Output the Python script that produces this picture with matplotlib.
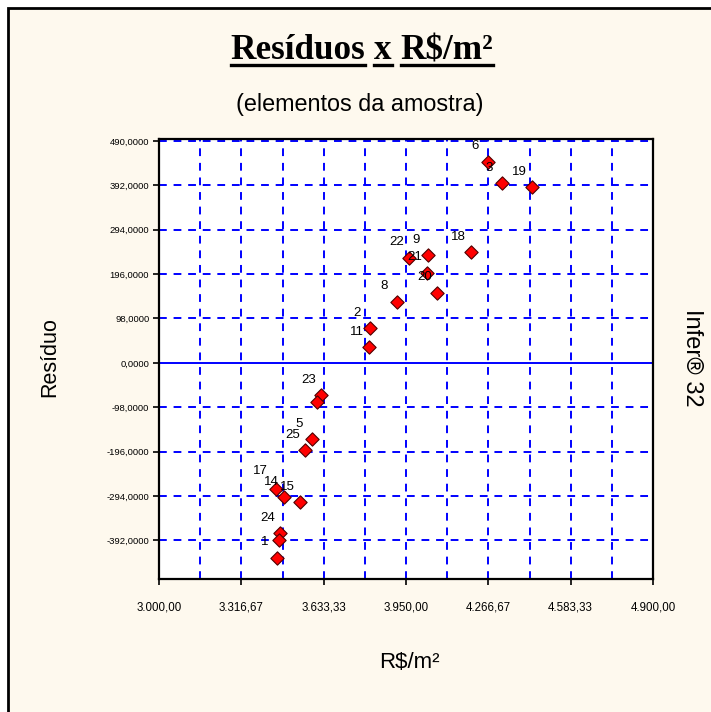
import matplotlib.pyplot as plt
from matplotlib.patches import Rectangle
from matplotlib.lines import Line2D
import numpy as np

# sample elements (None = label not readable in the picture)
labels = ['2', '11', '8', '22', '9', '21', '20', '18', '6', '3', '19',
          '23', None, '5', '25', '17', '14', '15', '24', None, '1']
precos = [3811, 3808, 3915, 3962, 4035, 4031, 4069, 4200, 4265, 4319, 4435,
          3623, 3608, 3588, 3562, 3450, 3481, 3542, 3465, 3462, 3454]
residuos = [77, 35, 135, 232, 238, 199, 155, 245, 444, 397, 388,
            -71, -86, -168, -192, -278, -296, -307, -375, -391, -430]

x_ticks = [3000, 3316.67, 3633.33, 3950, 4266.67, 4583.33, 4900]
x_ticklabels = ['3.000,00', '3.316,67', '3.633,33', '3.950,00', '4.266,67', '4.583,33', '4.900,00']
y_ticks = [490, 392, 294, 196, 98, 0, -98, -196, -294, -392]
y_ticklabels = ['490,0000', '392,0000', '294,0000', '196,0000', '98,0000', '0,0000',
                '-98,0000', '-196,0000', '-294,0000', '-392,0000']

bg = '#fef9ee'
fig = plt.figure(figsize=(7.11, 7.12), dpi=100, facecolor='white')

# cream panel with black frame (top-left corner visible)
fig.patches.append(Rectangle((8 / 711, -0.05), 1.1, 1 - 8 / 712 + 0.05,
                             transform=fig.transFigure, facecolor=bg,
                             edgecolor='black', linewidth=2, zorder=-1))

ax = fig.add_axes([159 / 711, 1 - 579 / 712, 494 / 711, 440 / 712])
ax.set_facecolor('white')
ax.set_xlim(3000, 4900)
ax.set_ylim(-477, 494)

# grid
for gx in np.arange(3000, 4901, 1900 / 12):
    ax.axvline(gx, color='#0000ff', lw=1.4, ls=(0, (4, 3.5)), zorder=1)
for gy in y_ticks:
    if gy == 0:
        ax.axhline(0, color='#0000ff', lw=1.4, zorder=1)
    else:
        ax.axhline(gy, color='#0000ff', lw=1.4, ls=(0, (4, 3.5)), zorder=1)

ax.scatter(precos, residuos, marker='D', s=46, c='#ff0000',
           edgecolors='#500000', linewidths=0.8, zorder=3)
for lab, xv, yv in zip(labels, precos, residuos):
    if lab is None:
        continue
    off = (-9, 11)
    if lab == '17':
        off = (-11, 13)
    ax.annotate(lab, (xv, yv), xytext=off, textcoords='offset points',
                ha='center', va='center', fontsize=9.5,
                family='Liberation Sans', zorder=4)

ax.set_xticks(x_ticks)
ax.set_xticklabels(x_ticklabels, family='Liberation Sans', fontsize=8.3)
ax.set_yticks(y_ticks)
ax.set_yticklabels(y_ticklabels, family='Liberation Sans', fontsize=6.8)
ax.tick_params(length=4, width=1.2, color='black', pad=12)
ax.tick_params(axis='y', pad=3)
for sp in ax.spines.values():
    sp.set_linewidth(1.6)
    sp.set_color('black')

# title with underlined words
renderer = fig.canvas.get_renderer()
words = ['Resíduos', 'x', 'R$/m²']
tkw = dict(family='Liberation Serif', weight='bold', fontsize=25.3)
widths = []
for w in words:
    t = fig.text(0, 0, w, **tkw)
    widths.append(t.get_window_extent(renderer).width)
    t.remove()
t = fig.text(0, 0, 'a a', **tkw)
w_aa = t.get_window_extent(renderer).width
t.remove()
t = fig.text(0, 0, 'aa', **tkw)
space = w_aa - t.get_window_extent(renderer).width
t.remove()
total = sum(widths) + space * (len(words) - 1)
xpix = 362 - total / 2
ybase = 712 - 59
for w, wd in zip(words, widths):
    fig.text(xpix / 711, ybase / 712, w, ha='left', va='baseline', **tkw)
    fig.add_artist(Line2D([xpix / 711, (xpix + wd) / 711],
                          [(ybase - 6) / 712, (ybase - 6) / 712],
                          transform=fig.transFigure, color='black', lw=2.4))
    xpix += wd + space

fig.text(360 / 711, 1 - 104 / 712, '(elementos da amostra)', ha='center', va='center',
         family='Liberation Sans', fontsize=16.8)
fig.text(50 / 711, 1 - 357 / 712, 'Resíduo', ha='center', va='center', rotation=90,
         family='Liberation Sans', fontsize=15.5)
fig.text(692 / 711, 1 - 358 / 712, 'Infer® 32', ha='center', va='center', rotation=-90,
         family='Liberation Sans', fontsize=17)
fig.text(409 / 711, 1 - 662 / 712, 'R$/m²', ha='center', va='center',
         family='Liberation Sans', fontsize=16)

fig.savefig('out.png', dpi=100, facecolor='white')
